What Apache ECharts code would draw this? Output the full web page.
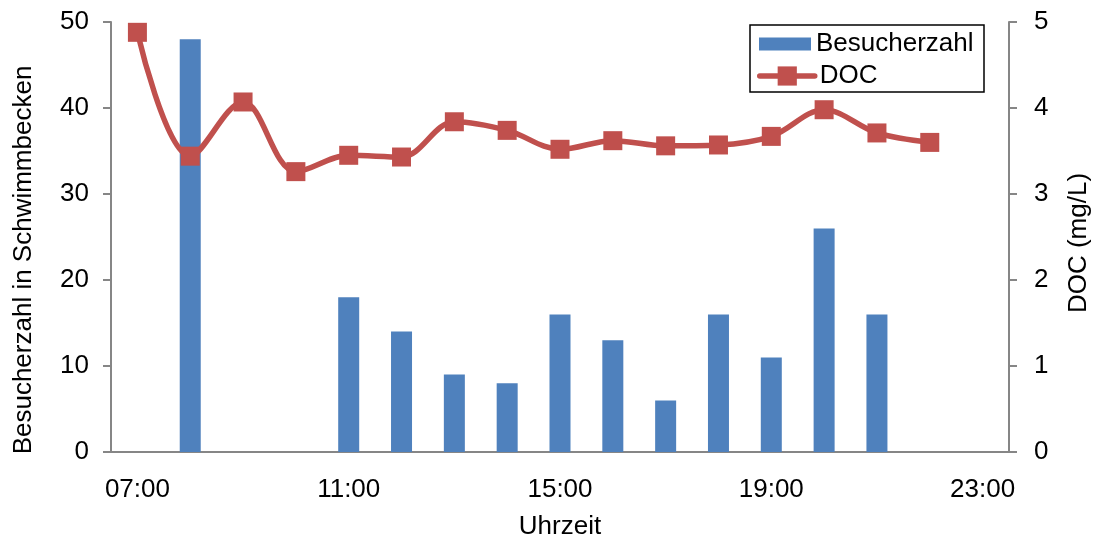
<!DOCTYPE html>
<html>
<head>
<meta charset="utf-8">
<script src="https://cdn.jsdelivr.net/npm/echarts@6/dist/echarts.min.js"></script>
<style>
  html, body { margin: 0; padding: 0; background: #fff; }
  #chart { width: 1095px; height: 538px; }
</style>
</head>
<body>
<div id="chart"></div>
<script>
// Besucherzahl (bars, left axis) by hour of day
const barHours = [8, 11, 12, 13, 14, 15, 16, 17, 18, 19, 20, 21];
const visitors = [48, 18, 14, 9, 8, 16, 13, 6, 16, 11, 26, 16];

// DOC concentration (line, right axis) by hour of day
const docHours = [7, 8, 9, 10, 11, 12, 13, 14, 15, 16, 17, 18, 19, 20, 21, 22];
const docValues = [4.88, 3.44, 4.07, 3.26, 3.45, 3.43, 3.84, 3.74, 3.52, 3.62, 3.56, 3.57, 3.67, 3.98, 3.71, 3.60];

// Labelled hours on the time axis
const tickHours = [7, 11, 15, 19, 23];

const FONT = '"Liberation Sans", Arial, sans-serif';
const AXIS_GREY = '#868686';
const BLUE = '#4F81BD';
const RED = '#C0504D';

const fmtHour = h => String(h).padStart(2, '0') + ':00';

const chart = echarts.init(document.getElementById('chart'), null, { renderer: 'canvas' });

chart.setOption({
  animation: false,
  backgroundColor: '#fff',
  textStyle: { fontFamily: FONT },
  grid: { left: 111, right: 86, top: 22, bottom: 86, containLabel: false, outerBoundsMode: 'none' },
  legend: [
    {
      data: [{ name: 'Besucherzahl', icon: 'rect' }],
      left: 759, top: 31, padding: 0,
      itemWidth: 52, itemHeight: 13,
      textStyle: { fontSize: 26, color: '#000', fontFamily: FONT }
    },
    {
      data: ['DOC'],
      left: 757, top: 63, padding: 0,
      itemWidth: 55, itemHeight: 24,
      lineStyle: { width: 5.5, cap: 'round' },
      textStyle: { fontSize: 26, color: '#000', fontFamily: FONT }
    }
  ],
  graphic: [
    {
      type: 'rect',
      shape: { x: 750, y: 25, width: 234, height: 67 },
      style: { fill: 'none', stroke: '#000', lineWidth: 1.5 },
      silent: true
    }
  ],
  xAxis: {
    type: 'value',
    min: 6.5, max: 23.5,
    name: 'Uhrzeit',
    nameLocation: 'middle',
    nameGap: 62,
    nameTextStyle: { fontSize: 26, color: '#000', fontFamily: FONT },
    axisLine: { show: true, lineStyle: { color: AXIS_GREY, width: 2 } },
    axisTick: { show: false },
    splitLine: { show: false },
    axisLabel: {
      customValues: tickHours,
      formatter: v => fmtHour(v),
      fontSize: 26, color: '#000', margin: 25, fontFamily: FONT
    }
  },
  yAxis: [
    {
      type: 'value',
      min: 0, max: 50, interval: 10,
      name: 'Besucherzahl in Schwimmbecken',
      nameLocation: 'middle',
      nameRotate: 90,
      nameGap: 74,
      nameTextStyle: { fontSize: 26, color: '#000', fontFamily: FONT, padding: [0, 46, 0, 0] },
      axisLine: { show: true, lineStyle: { color: AXIS_GREY, width: 2 } },
      axisTick: { show: true, inside: false, length: 8, lineStyle: { color: AXIS_GREY, width: 2 } },
      splitLine: { show: false },
      axisLabel: { fontSize: 26, color: '#000', margin: 22, fontFamily: FONT }
    },
    {
      type: 'value',
      min: 0, max: 5, interval: 1,
      position: 'right',
      name: 'DOC (mg/L)',
      nameLocation: 'middle',
      nameRotate: 90,
      nameGap: 57,
      nameTextStyle: { fontSize: 26, color: '#000', fontFamily: FONT, padding: [0, 12, 0, 0] },
      axisLine: { show: true, lineStyle: { color: AXIS_GREY, width: 2 } },
      axisTick: { show: true, inside: false, length: 8, lineStyle: { color: AXIS_GREY, width: 2 } },
      splitLine: { show: false },
      axisLabel: { fontSize: 26, color: '#000', margin: 25, fontFamily: FONT }
    }
  ],
  series: [
    {
      name: 'Besucherzahl',
      type: 'bar',
      yAxisIndex: 0,
      barWidth: 21,
      itemStyle: { color: BLUE },
      data: barHours.map((h, i) => [h, visitors[i]])
    },
    {
      name: 'DOC',
      type: 'line',
      yAxisIndex: 1,
      smooth: 0.35,
      symbol: 'rect',
      symbolSize: 19,
      lineStyle: { color: RED, width: 5.5 },
      itemStyle: { color: RED },
      data: docHours.map((h, i) => [h, docValues[i]])
    }
  ]
});
</script>
</body>
</html>
